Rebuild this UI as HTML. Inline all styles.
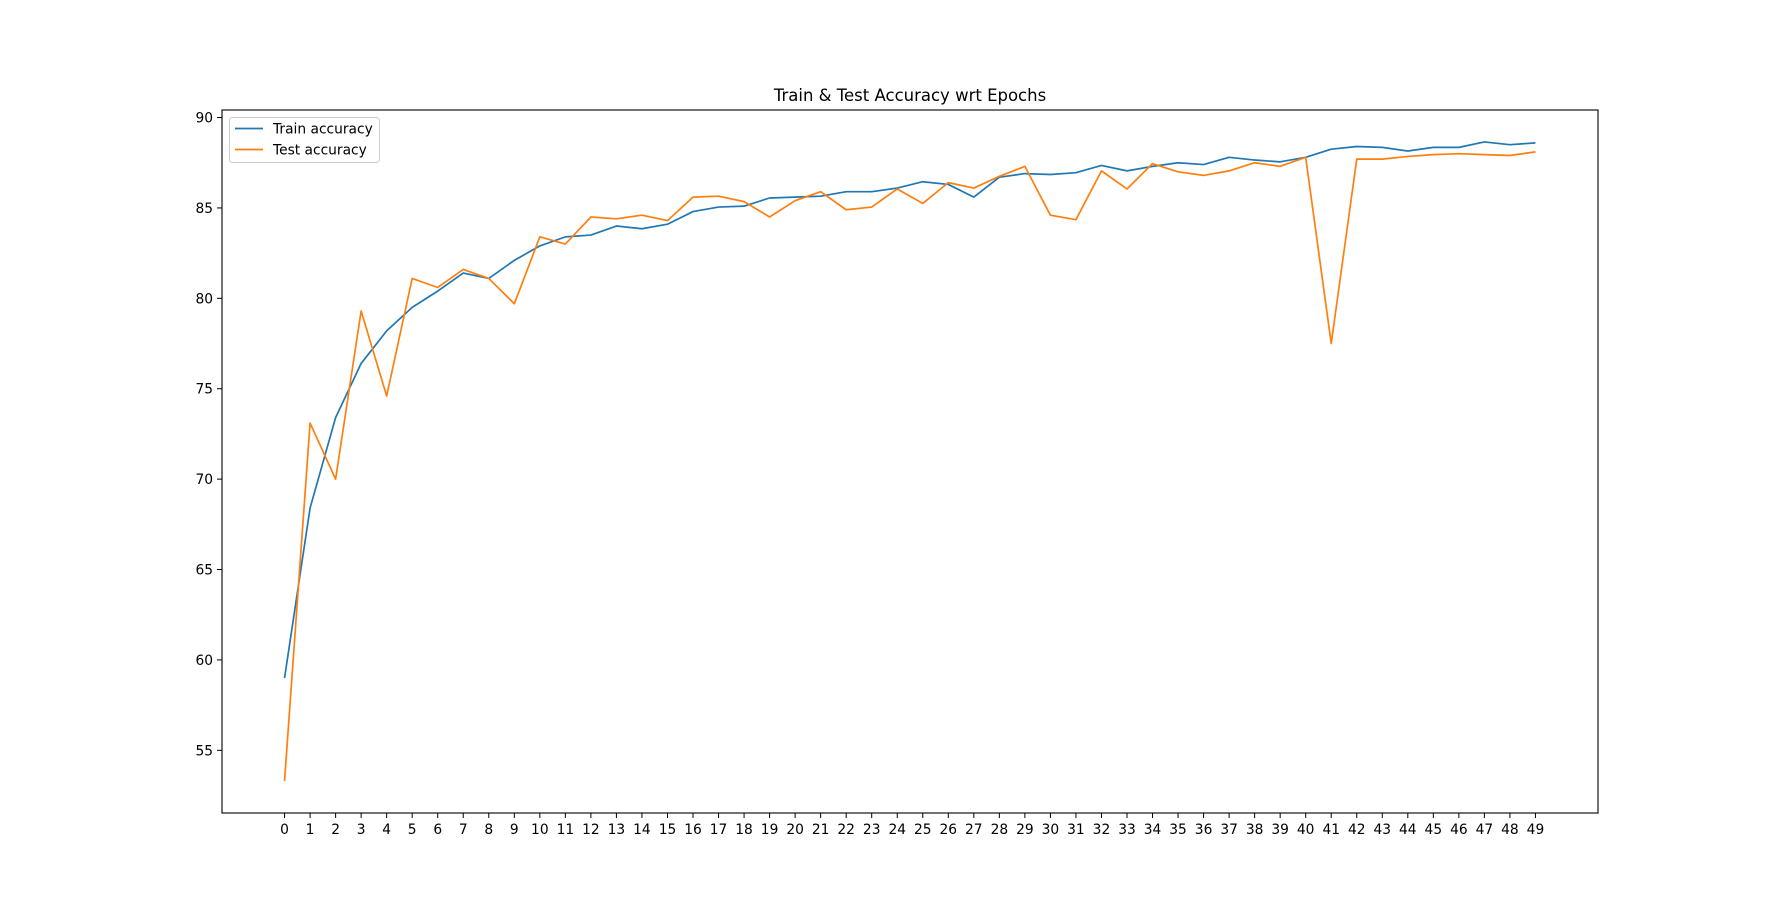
<!DOCTYPE html>
<html><head><meta charset="utf-8"><style>
html,body{margin:0;padding:0;background:#fff;}
svg{display:block;font-family:"DejaVu Sans","Liberation Sans",sans-serif;}
</style></head><body>
<svg id="chart" width="1776" height="913" viewBox="0 0 1776 913"></svg>
<script>
const epochs = Array.from({length:50},(_, i)=>i);
const trainAcc = [59.0,68.4,73.4,76.4,78.2,79.5,80.4,81.4,81.1,82.1,82.9,83.4,83.5,84.0,83.85,84.1,84.8,85.05,85.1,85.55,85.6,85.65,85.9,85.9,86.1,86.45,86.3,85.6,86.7,86.9,86.85,86.95,87.35,87.05,87.3,87.5,87.4,87.8,87.65,87.55,87.8,88.25,88.4,88.35,88.15,88.35,88.35,88.65,88.5,88.6];
const testAcc = [53.3,73.1,70.0,79.3,74.6,81.1,80.6,81.6,81.1,79.7,83.4,83.0,84.5,84.4,84.6,84.3,85.6,85.65,85.35,84.5,85.4,85.9,84.9,85.05,86.05,85.25,86.4,86.1,86.75,87.3,84.6,84.35,87.05,86.05,87.45,87.0,86.8,87.05,87.5,87.3,87.8,77.5,87.7,87.7,87.85,87.95,88.0,87.95,87.9,88.1];
const yTicks = [55,60,65,70,75,80,85,90];

const NS="http://www.w3.org/2000/svg";
const svg=document.getElementById('chart');
const L=222,R=1598,T=110,B=813;
const allV=trainAcc.concat(testAcc);
const vmin=Math.min(...allV), vmax=Math.max(...allV);
const ypad=(vmax-vmin)*0.05;
const y0=vmin-ypad, y1=vmax+ypad;
const x0=-(epochs.length-1)*0.05, x1=(epochs.length-1)*1.05;
const X=v=>L+(v-x0)/(x1-x0)*(R-L);
const Y=v=>B-(v-y0)/(y1-y0)*(B-T);
function mk(tag,attrs){const e=document.createElementNS(NS,tag);for(const k in attrs)e.setAttribute(k,attrs[k]);svg.appendChild(e);return e;}

const title=mk('text',{x:(L+R)/2,y:101,'text-anchor':'middle','font-size':'16.5'});
title.textContent='Train & Test Accuracy wrt Epochs';



yTicks.forEach(t=>{
  const tk=mk('line',{x1:L-5,x2:L,y1:Y(t),y2:Y(t),stroke:'#000','stroke-width':1});
  
  
  const tx=mk('text',{x:L-9,y:Y(t)+5,'text-anchor':'end','font-size':'13.8'});
  tx.textContent=t;
  
  
});
epochs.forEach(e=>{
  const tk=mk('line',{x1:X(e),x2:X(e),y1:B,y2:B+5,stroke:'#000','stroke-width':1});
  
  
  const tx=mk('text',{x:X(e),y:B+21,'text-anchor':'middle','font-size':'13.8'});
  tx.textContent=e;
  
  
});

function series(vals,color,name){
  const p=mk('polyline',{points:vals.map((v,i)=>X(epochs[i])+','+Y(v)).join(' '),fill:'none',stroke:color,'stroke-width':1.7,'stroke-linejoin':'round'});
  
  
}
series(trainAcc,'#1f77b4','train-accuracy-line');
series(testAcc,'#ff7f0e','test-accuracy-line');

const frame=mk('rect',{x:L,y:T,width:R-L,height:B-T,fill:'none',stroke:'#000','stroke-width':1.1});



const lg=mk('rect',{x:229.5,y:117.5,width:150,height:45,rx:3,fill:'#fff','fill-opacity':0.8,stroke:'#ccc','stroke-width':1});


[['Train accuracy','#1f77b4',128.5],['Test accuracy','#ff7f0e',149.5]].forEach(([lab,c,yy])=>{
  const ln=mk('line',{x1:235,x2:263,y1:yy,y2:yy,stroke:c,'stroke-width':1.7});
  
  
  const tx=mk('text',{x:273,y:yy+5,'font-size':'13.8'});
  tx.textContent=lab;
  
  
});
</script>
</body></html>
